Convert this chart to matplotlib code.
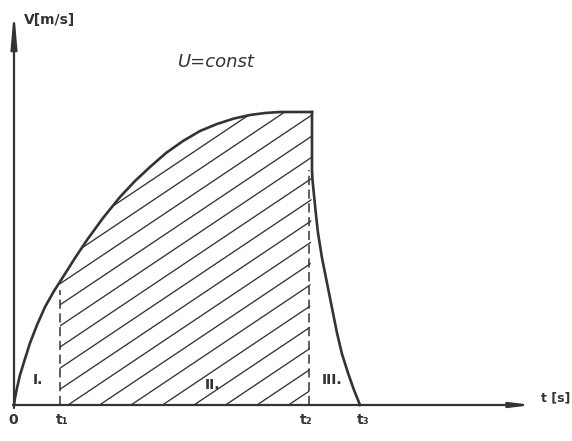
import numpy as np
import matplotlib
matplotlib.use("Agg")
import matplotlib.pyplot as plt
from matplotlib.patches import Polygon

# velocity profile (arbitrary units, 1 unit ~ 10 px)
t_rise = [0.0, 0.1, 0.3, 0.6, 1.0, 1.6, 2.3, 3.1, 4.0, 4.9, 6.1, 7.3, 8.9,
          10.6, 12.1, 13.6, 15.2, 16.9, 18.6, 20.3, 22.0, 23.6, 25.1, 26.6,
          28.1, 29.8]
v_rise = [0.0, 0.7, 1.7, 3.0, 4.3, 6.2, 8.0, 9.8, 11.4, 12.8, 14.7, 16.5,
          18.7, 20.8, 22.4, 23.8, 25.2, 26.4, 27.4, 28.1, 28.65, 29.0, 29.2,
          29.3, 29.3, 29.3]
t_fall = [29.8, 29.8, 29.85, 30.0, 30.2, 30.4, 30.8, 31.3, 31.8, 32.3, 32.8,
          33.4, 34.0, 34.6]
v_fall = [29.3, 23.5, 22.5, 21.0, 19.0, 17.2, 14.7, 12.2, 9.7, 7.2, 5.1,
          3.2, 1.5, 0.0]

t1, t2, t3 = 4.6, 29.5, 34.6
phase_labels = ["I.", "II.", "III."]
phase_x = [2.4, 19.9, 31.8]
phase_y = [2.5, 2.0, 2.5]

ink = "#333333"

fig = plt.figure(figsize=(5.72, 4.41), dpi=100)
ax = fig.add_axes([0, 0, 1, 1])
ax.set_xlim(-1.4, 55.8)
ax.set_ylim(-3.6, 40.5)
ax.axis("off")

# axes with arrows
ax.annotate("", xy=(51.8, 0), xytext=(-0.1, 0),
            arrowprops=dict(arrowstyle="-|>,head_length=1.2,head_width=0.15",
                            color=ink, lw=1.6, shrinkA=0, shrinkB=0))
ax.annotate("", xy=(0, 39.4), xytext=(0, -0.3),
            arrowprops=dict(arrowstyle="-|>,head_length=2.0,head_width=0.18",
                            color=ink, lw=1.6, shrinkA=0, shrinkB=0))

# curve
ax.plot(t_rise, v_rise, color=ink, lw=1.9, solid_joinstyle="round")
ax.plot(t_fall, v_fall, color=ink, lw=1.9, solid_joinstyle="round")

# hatched region II (t1..t2 under the curve)
t_rise_a = np.array(t_rise)
v_at_t1 = np.interp(t1, t_rise_a, v_rise)
mask = (t_rise_a > t1)
poly_x = [t1, t1] + list(t_rise_a[mask]) + [t2 + 0.3, t2]
poly_y = [0, v_at_t1] + list(np.array(v_rise)[mask]) + [23.5, 0]
region = Polygon(np.column_stack([poly_x, poly_y]), closed=True,
                 facecolor="none", edgecolor="none")
ax.add_patch(region)
slope = 0.67
for x0 in np.arange(5.4 - 3.15 * 15, 31, 3.15):
    xs = np.array([x0 - 5, x0 + 50])
    ln, = ax.plot(xs, slope * (xs - x0), color=ink, lw=0.95)
    ln.set_clip_path(region)

# dashed borders at t1 and t2
ax.plot([t1, t1], [0, v_at_t1 - 0.8], color=ink, lw=1.1, ls=(0, (6, 3)))
ax.plot([t2, t2], [0, 23.5], color=ink, lw=1.1, ls=(0, (6, 3)))

# texts
ax.text(1.0, 38.5, "V[m/s]", fontsize=10, fontweight="bold", color=ink,
        ha="left", va="center")
ax.text(20.2, 34.3, "U=const", fontsize=13, style="italic", color=ink,
        ha="center", va="center")
ax.text(54.2, 0.7, "t [s]", fontsize=9, fontweight="bold", color=ink,
        ha="center", va="center")

ax.text(-0.1, -1.5, "0", fontsize=10, fontweight="bold", color=ink,
        ha="center", va="center")
for lbl, x in zip(["t\u2081", "t\u2082", "t\u2083"], [t1 + 0.2, t2 - 0.3, t3 + 0.3]):
    ax.text(x, -1.5, lbl, fontsize=10, fontweight="bold", color=ink,
            ha="center", va="center")

for lbl, x, y in zip(phase_labels, phase_x, phase_y):
    ax.text(x, y, lbl, fontsize=10, fontweight="bold", color=ink,
            ha="center", va="center")

fig.savefig("out.png", dpi=100, facecolor="white")
